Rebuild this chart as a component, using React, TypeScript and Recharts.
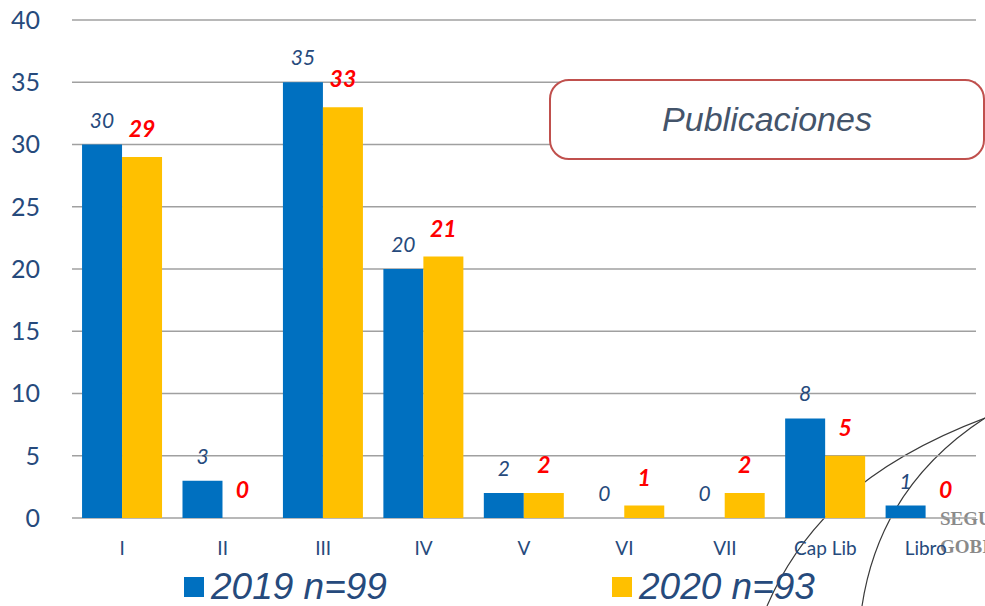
import { BarChart, Bar, XAxis, YAxis, CartesianGrid, LabelList } from "recharts"

const categories = ["I", "II", "III", "IV", "V", "VI", "VII", "Cap Lib", "Libro"]
const values2019 = [30, 3, 35, 20, 2, 0, 0, 8, 1]
const values2020 = [29, 0, 33, 21, 2, 1, 2, 5, 0]
const yTicks = [0, 5, 10, 15, 20, 25, 30, 35, 40]
const seriesNames = ["2019 n=99", "2020 n=93"]

const blue = "#0070C0"
const yellow = "#FFC000"
const navy = "#264A7C"

const data = categories.map((name, i) => ({
  name,
  y2019: values2019[i],
  y2020: values2020[i],
}))

export default function App() {
  return (
    <div style={{ position: "absolute", left: 0, top: 0, width: 985, height: 606, background: "#fff", overflow: "hidden" }}>
      {/* watermark arcs behind the chart */}
      <svg width={985} height={606} style={{ position: "absolute", left: 0, top: 0 }}>
        <path d="M 767 606 C 800 530, 860 465, 985 418" fill="none" stroke="#3a3a3a" strokeWidth={1.2} />
        <path d="M 862 606 C 872 540, 905 470, 985 418" fill="none" stroke="#3a3a3a" strokeWidth={1.2} />
        <text x={940} y={525} fontFamily="Liberation Serif, serif" fontWeight="bold" fontSize={19} fill="#8a8a8a">SEGU</text>
        <text x={940} y={553} fontFamily="Liberation Serif, serif" fontWeight="bold" fontSize={19} fill="#8a8a8a">GOBI</text>
      </svg>
      <div style={{ position: "absolute", left: 0, top: 0 }}>
        <BarChart
          width={985}
          height={606}
          data={data}
          margin={{ top: 20, right: 9, left: 0, bottom: 58 }}
          barCategoryGap="10%"
          barGap={0}
        >
          <CartesianGrid vertical={false} stroke="#A0A0A0" strokeWidth={1.6} />
          <XAxis
            dataKey="name"
            axisLine={false}
            tickLine={false}
            height={30}
            interval={0}
            tickMargin={18}
            tick={{ fill: navy, fontSize: 19, fontFamily: "Lato" }}
          />
          <YAxis
            domain={[0, 40]}
            ticks={yTicks}
            axisLine={false}
            tickLine={false}
            width={72}
            tickMargin={26}
            tick={{ fill: navy, fontSize: 25, fontFamily: "Lato" }}
          />
          <Bar dataKey="y2019" fill={blue} minPointSize={0.01} isAnimationActive={false}>
            <LabelList
              dataKey="y2019"
              position="top"
              offset={17}
              style={{ fill: navy, fontSize: 21, fontStyle: "italic", fontFamily: "Lato" }}
            />
          </Bar>
          <Bar dataKey="y2020" fill={yellow} minPointSize={0.01} isAnimationActive={false}>
            <LabelList
              dataKey="y2020"
              position="top"
              offset={20}
              style={{ fill: "#FF0000", fontSize: 23, fontStyle: "italic", fontWeight: "bold", fontFamily: "Lato" }}
            />
          </Bar>
        </BarChart>
      </div>
      {/* title box */}
      <div
        style={{
          position: "absolute",
          left: 549,
          top: 79,
          width: 432,
          height: 77,
          border: "2px solid #C0504D",
          borderRadius: 20,
          background: "#fff",
          display: "flex",
          alignItems: "center",
          justifyContent: "center",
          fontFamily: "Liberation Sans, Arial, sans-serif",
          fontStyle: "italic",
          fontSize: 34,
          color: "#44546A",
        }}
      >
        Publicaciones
      </div>
      {/* legend */}
      {seriesNames.map((name, i) => (
        <div
          key={name}
          style={{
            position: "absolute",
            left: i === 0 ? 184 : 612,
            top: 566,
            height: 42,
            display: "flex",
            alignItems: "center",
            fontFamily: "Liberation Sans, Arial, sans-serif",
            fontStyle: "italic",
            fontSize: 37,
            color: navy,
            whiteSpace: "nowrap",
          }}
        >
          <span style={{ display: "inline-block", width: 20, height: 20, background: i === 0 ? blue : yellow, marginRight: 7 }} />
          {name}
        </div>
      ))}
    </div>
  )
}
